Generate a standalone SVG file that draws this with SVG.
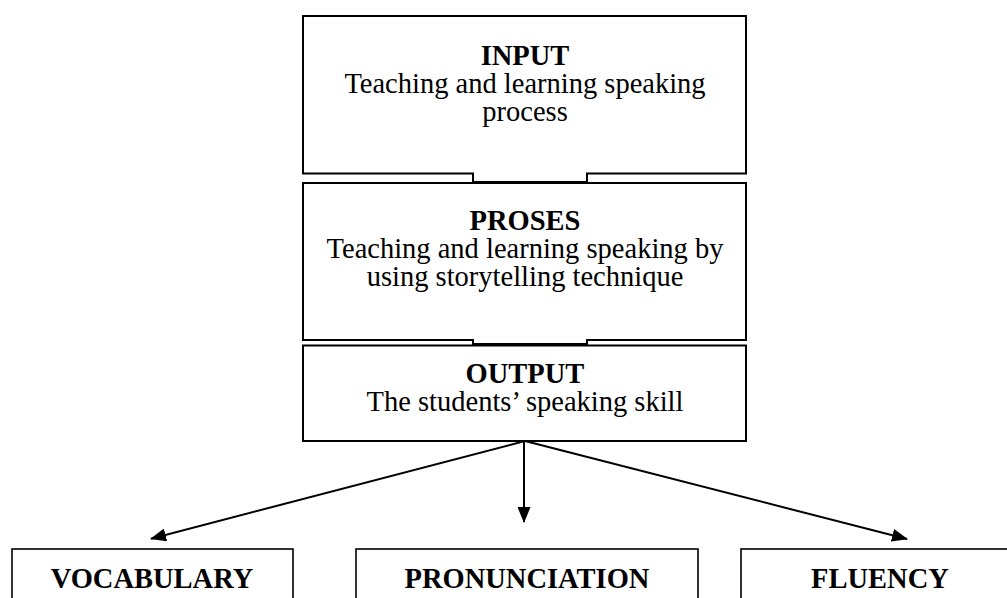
<svg xmlns="http://www.w3.org/2000/svg" width="1007" height="598" viewBox="0 0 1007 598">
<style>
.box{fill:none;stroke:#000;stroke-width:2}
.bbox{fill:none;stroke:#000;stroke-width:1.6}
.t{font-family:"Liberation Serif","Times New Roman",serif;font-size:28.5px;fill:#000;text-anchor:middle}
.b{font-weight:bold}
.con{stroke:#000;stroke-width:2;fill:none}
</style>
<defs>
<marker id="arr" viewBox="0 0 16 13" refX="15" refY="6.5" markerWidth="16" markerHeight="13" markerUnits="userSpaceOnUse" orient="auto">
<path d="M0,0 L16,6.5 L0,13 z" fill="#000"/>
</marker>
</defs>
<g id="input">
<path class="box" d="M303,16 H746 V173.5 H587 V182 H473 V173.5 H303 Z"/>
<text class="t b" x="525" y="65">INPUT</text>
<text class="t" x="525" y="93">Teaching and learning speaking</text>
<text class="t" x="525" y="121">process</text>
</g>
<g id="proses">
<path class="box" d="M303,183 H746 V340 H587 V344 H473 V340 H303 Z"/>
<text class="t b" x="525" y="230">PROSES</text>
<text class="t" x="525" y="258">Teaching and learning speaking by</text>
<text class="t" x="525" y="286">using storytelling technique</text>
</g>
<g id="output">
<rect class="box" x="303" y="345.5" width="443" height="95.5"/>
<text class="t b" x="525" y="383">OUTPUT</text>
<text class="t" x="525" y="411">The students’ speaking skill</text>
</g>
<g id="connectors">
<line class="con" x1="525" y1="441" x2="151" y2="538.7" marker-end="url(#arr)"/>
<line class="con" x1="524" y1="441" x2="524" y2="522" marker-end="url(#arr)"/>
<line class="con" x1="525" y1="441" x2="907" y2="539" marker-end="url(#arr)"/>
</g>
<g id="vocabulary">
<rect class="bbox" x="12" y="549" width="281" height="60"/>
<text class="t b" x="152" y="588">VOCABULARY</text>
</g>
<g id="pronunciation">
<rect class="bbox" x="356" y="549" width="342" height="60"/>
<text class="t b" x="527" y="588">PRONUNCIATION</text>
</g>
<g id="fluency">
<rect class="bbox" x="741" y="549" width="278" height="60"/>
<text class="t b" x="880" y="588">FLUENCY</text>
</g>
</svg>
